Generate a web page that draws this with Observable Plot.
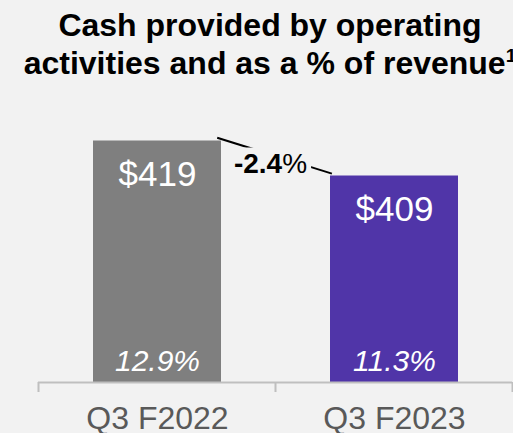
<!DOCTYPE html>
<html>
<head>
<meta charset="utf-8">
<script src="https://cdn.jsdelivr.net/npm/d3@7"></script>
<script src="https://cdn.jsdelivr.net/npm/@observablehq/plot@0.6"></script>
<style>
  html, body { margin: 0; padding: 0; background: #f2f2f2; overflow: hidden; width: 513px; height: 433px; }
  #title { box-sizing: border-box; width: 540px; height: 100px; padding-top: 6px; text-align: center;
    font-family: "Liberation Sans", Arial, sans-serif; font-weight: bold; font-size: 32px; line-height: 38px; color: #000; white-space: nowrap; }
  #title sup { font-size: 0.6em; line-height: 0; vertical-align: 0.6em; }
  #chart svg { display: block; }
</style>
</head>
<body>
<div id="title">Cash provided by operating<br>activities and as a % of revenue<sup>1</sup></div>
<div id="chart"></div>
<script>
const categories = ["Q3 F2022", "Q3 F2023"];
const cashValues = [419, 409];
const valueLabels = ["$419", "$409"];
const pctLabels = ["12.9%", "11.3%"];
const barColors = ["#7f7f7f", "#5035a8"];
const changeNumber = "-2.4";
const changeUnit = "%";
const yBaseValue = 350;
const yTopValue = 430;

const data = categories.map((c, i) => ({
  cat: c, value: cashValues[i], label: valueLabels[i], pct: pctLabels[i], color: barColors[i]
}));

const chart = Plot.plot({
  width: 513,
  height: 333,
  marginLeft: 38,
  marginRight: 1,
  marginTop: 2,
  marginBottom: 51,
  style: { background: "transparent", fontFamily: "'Liberation Sans', Arial, sans-serif", color: "#595959" },
  x: { domain: categories, paddingInner: 0.46, paddingOuter: 0.23, label: null },
  y: { domain: [yBaseValue, yTopValue], axis: null },
  color: { type: "identity" },
  marks: [
    Plot.barY(data, { x: "cat", y1: yBaseValue, y2: "value", fill: "color" }),
    Plot.ruleY([yBaseValue], { stroke: "#bfbfbf", strokeWidth: 2 }),
    Plot.text(data, { x: "cat", y: "value", text: "label", fill: "white", fontSize: 35, dy: 34 }),
    Plot.text(data, { x: "cat", y: yBaseValue, text: "pct", fill: "white", fontSize: 30, fontStyle: "italic", dy: -21 }),
    Plot.axisX({ tickSize: 0, tickPadding: 24, fontSize: 32, fill: "#595959", label: null })
  ]
});
document.getElementById("chart").appendChild(chart);

// category boundary ticks and change annotation, positioned with Plot's own scales
const xs = chart.scale("x");
const ys = chart.scale("y");
const svg = d3.select(chart);
const step = xs.step, bw = xs.bandwidth;
const yb = ys.apply(yBaseValue);
const bounds = categories.map(c => xs.apply(c) - (step - bw) / 2);
bounds.push(xs.apply(categories[categories.length - 1]) + bw + (step - bw) / 2);
svg.append("g").selectAll("line").data(bounds).join("line")
  .attr("x1", d => d).attr("x2", d => d)
  .attr("y1", yb).attr("y2", yb + 10)
  .attr("stroke", "#bfbfbf").attr("stroke-width", 2);

const x1 = xs.apply(categories[0]) + bw, y1 = ys.apply(cashValues[0]);
const x2 = xs.apply(categories[1]), y2 = ys.apply(cashValues[1]);
const ann = svg.append("g");
const len = Math.hypot(x2 - x1, y2 - y1), ux = (x2 - x1) / len, uy = (y2 - y1) / len;
ann.append("line")
  .attr("x1", x1 - 4 * ux).attr("y1", y1 - 4 * uy - 1.5)
  .attr("x2", x2 + 2 * ux).attr("y2", y2 + 2 * uy - 2.5)
  .attr("stroke", "#000").attr("stroke-width", 2);
const bg = ann.append("rect").attr("fill", "#f2f2f2");
const t = ann.append("text")
  .attr("x", (x1 + x2) / 2 - 5).attr("y", (y1 + y2) / 2 + 14.5)
  .attr("text-anchor", "middle")
  .attr("font-family", "'Liberation Sans', Arial, sans-serif")
  .attr("font-size", 28).attr("fill", "#000");
t.append("tspan").attr("font-weight", "bold").text(changeNumber);
t.append("tspan").text(changeUnit);
const bb = t.node().getBBox();
bg.attr("x", bb.x - 2).attr("y", bb.y).attr("width", bb.width + 6).attr("height", bb.height);
</script>
</body>
</html>
